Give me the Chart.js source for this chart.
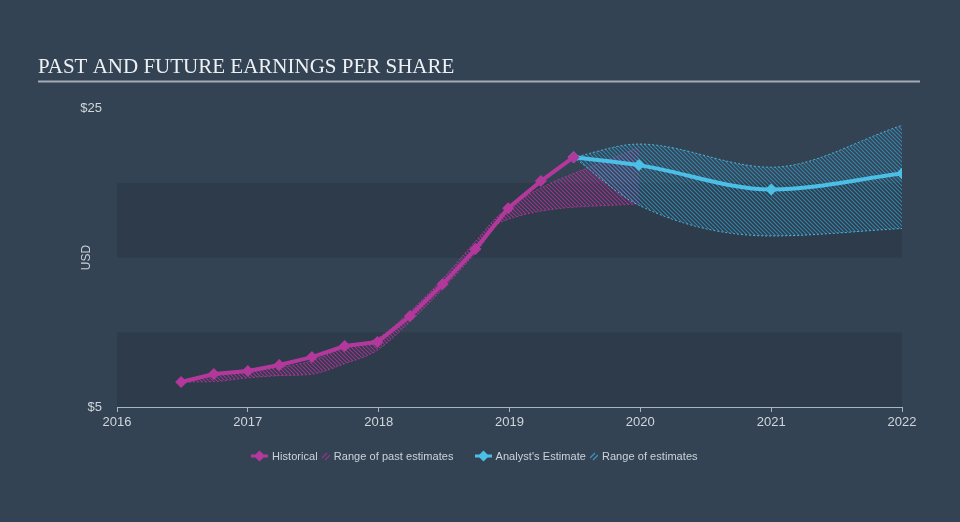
<!DOCTYPE html>
<html>
<head>
<meta charset="utf-8">
<title>Past and Future Earnings Per Share</title>
<script src="https://cdn.jsdelivr.net/npm/chart.js@4.4.1/dist/chart.umd.min.js"></script>
<style>
    html, body { margin: 0; padding: 0; background: #344353; }
    #wrap { position: relative; width: 960px; height: 522px; }
    #legend {
        position: absolute; left: 251px; top: 450px;
        display: flex; align-items: center;
        font: 11px "Liberation Sans", Arial, sans-serif; color: #ccd3da;
        letter-spacing: 0.05px;
        white-space: nowrap;
    }
    #legend svg { display: block; }
    #legend .txt { margin: 0 4px; }
    #legend .gap { width: 17px; }
</style>
</head>
<body>
<div id="wrap">
    <canvas id="chart" width="960" height="522"></canvas>
    <div id="legend">
        <svg width="17" height="12"><line x1="0" y1="6" x2="17" y2="6" stroke="#b2399b" stroke-width="3"/><polygon points="8.5,0.5 14,6 8.5,11.5 3,6" fill="#b2399b"/></svg>
        <span class="txt">Historical</span>
        <svg width="8" height="10"><path d="M0,7 L5,2 M3,9 L8,4" stroke="#8e3583" stroke-width="1.3"/></svg>
        <span class="txt">Range of past estimates</span>
        <span class="gap"></span>
        <svg width="17" height="12"><line x1="0" y1="6" x2="17" y2="6" stroke="#4bbfe6" stroke-width="3"/><polygon points="8.5,0.5 14,6 8.5,11.5 3,6" fill="#4bbfe6"/></svg>
        <span class="txt">Analyst's Estimate</span>
        <svg width="8" height="10"><path d="M0,7 L5,2 M3,9 L8,4" stroke="#3a94b8" stroke-width="1.3"/></svg>
        <span class="txt">Range of estimates</span>
    </div>
</div>
<script>
// EPS history (quarterly, trailing), in USD
const histDates = [2016.49, 2016.74, 2017.0, 2017.24, 2017.49, 2017.74, 2017.99, 2018.24, 2018.49, 2018.74, 2018.99, 2019.24, 2019.49];
const histEps = [6.67, 7.21, 7.41, 7.81, 8.34, 9.08, 9.35, 11.09, 13.23, 15.57, 18.31, 20.12, 21.72];

// range of past estimates
const pastRangeDates = [2016.49, 2016.74, 2017.0, 2017.24, 2017.49, 2017.74, 2017.99, 2018.24, 2018.49, 2018.74, 2018.94, 2019.99];
const pastLow = [6.67, 6.7, 6.95, 7.1, 7.2, 7.9, 8.8, 10.7, 12.9, 15.3, 17.4, 18.6];
const pastHigh = [6.67, 7.1, 7.35, 7.65, 8.1, 9.0, 9.6, 11.4, 13.6, 16.1, 18.0, 22.4];

// analyst estimates
const estDates = [2019.49, 2019.99, 2021.0, 2022.0];
const estEps = [21.72, 21.19, 19.56, 20.63];
const estLow = [21.72, 18.5, 16.45, 16.95];
const estHigh = [21.72, 22.6, 21.05, 23.85];

const yTicks = [5, 25];
const bands = [[5, 10], [15, 20]];

const pink = '#b2399b';
const blue = '#4bbfe6';

const canvas = document.getElementById('chart');
const ctx = canvas.getContext('2d');

function hatch(color) {
    const c = document.createElement('canvas');
    c.width = 4;
    c.height = 4;
    const g = c.getContext('2d');
    g.strokeStyle = color;
    g.lineWidth = 1.2;
    g.beginPath();
    g.moveTo(0, 0); g.lineTo(4, 4);
    g.moveTo(-1, 3); g.lineTo(1, 5);
    g.moveTo(3, -1); g.lineTo(5, 1);
    g.stroke();
    return ctx.createPattern(c, 'repeat');
}

function points(xs, ys) {
    return xs.map((x, i) => ({ x: x, y: ys[i] }));
}

// darker horizontal bands behind the data
const bandPlugin = {
    id: 'bands',
    beforeDatasetsDraw(chart) {
        const { ctx, chartArea, scales } = chart;
        ctx.save();
        ctx.fillStyle = '#2e3b4a';
        bands.forEach(([lo, hi]) => {
            const top = scales.y.getPixelForValue(hi);
            const bottom = scales.y.getPixelForValue(lo);
            ctx.fillRect(chartArea.left, top, chartArea.right - chartArea.left, bottom - top);
        });
        ctx.restore();
    }
};

// rule under the title
const titleRule = {
    id: 'titleRule',
    afterDraw(chart) {
        const tb = chart.titleBlock;
        const y = tb.top + 81.5;
        const ctx = chart.ctx;
        ctx.save();
        ctx.strokeStyle = '#a3abb4';
        ctx.lineWidth = 2;
        ctx.beginPath();
        ctx.moveTo(38, y);
        ctx.lineTo(chart.width - 40, y);
        ctx.stroke();
        ctx.restore();
    }
};

const rangeLine = {
    borderWidth: 1,
    borderDash: [2, 2],
    pointRadius: 0,
    cubicInterpolationMode: 'monotone'
};

new Chart(ctx, {
    type: 'line',
    data: {
        datasets: [
            {
                label: 'Historical',
                data: points(histDates, histEps),
                borderColor: pink,
                backgroundColor: pink,
                borderWidth: 4,
                pointStyle: 'rectRot',
                pointRadius: 6,
                pointBorderWidth: 0,
                order: 0
            },
            {
                label: "Analyst's Estimate",
                data: points(estDates, estEps),
                borderColor: blue,
                backgroundColor: blue,
                borderWidth: 4,
                pointStyle: 'rectRot',
                pointRadius: 6,
                pointBorderWidth: 0,
                cubicInterpolationMode: 'monotone',
                order: 0
            },
            Object.assign({
                label: 'Past low',
                data: points(pastRangeDates, pastLow),
                borderColor: 'rgba(178,57,155,0.85)',
                fill: false,
                order: 2
            }, rangeLine),
            Object.assign({
                label: 'Range of past estimates',
                data: points(pastRangeDates, pastHigh),
                borderColor: 'rgba(178,57,155,0.85)',
                backgroundColor: hatch('rgba(170,52,150,0.9)'),
                fill: '-1',
                order: 2
            }, rangeLine),
            Object.assign({
                label: 'Estimate low',
                data: points(estDates, estLow),
                borderColor: 'rgba(75,191,230,0.9)',
                fill: false,
                order: 1
            }, rangeLine),
            Object.assign({
                label: 'Range of estimates',
                data: points(estDates, estHigh),
                borderColor: 'rgba(75,191,230,0.9)',
                backgroundColor: hatch('rgba(55,150,192,0.8)'),
                fill: '-1',
                order: 1
            }, rangeLine)
        ]
    },
    options: {
        responsive: false,
        animation: false,
        layout: { padding: { left: 38, right: 58, top: 0, bottom: 85 } },
        plugins: {
            legend: { display: false },
            tooltip: { enabled: false },
            title: {
                display: true,
                text: 'PAST AND FUTURE EARNINGS PER SHARE',
                align: 'start',
                color: '#eef1f4',
                font: { family: '"Liberation Serif", "Times New Roman", serif', size: 21, weight: 'normal' },
                padding: { top: 55, bottom: 28 }
            }
        },
        scales: {
            x: {
                type: 'linear',
                min: 2016,
                max: 2022,
                afterFit: (scale) => { scale.height = 30; },
                ticks: {
                    stepSize: 1,
                    padding: 3,
                    color: '#d0d6dc',
                    font: { family: '"Liberation Sans", Arial, sans-serif', size: 13 },
                    callback: (v) => String(v)
                },
                grid: { drawOnChartArea: false, drawTicks: true, tickLength: 5, color: '#a9b5c2' },
                border: { display: true, color: '#a9b5c2', width: 1 }
            },
            y: {
                min: 5,
                max: 25,
                afterFit: (scale) => { scale.width = 79; },
                afterBuildTicks: (scale) => { scale.ticks = yTicks.map(v => ({ value: v })); },
                ticks: {
                    padding: 15,
                    color: '#d0d6dc',
                    font: { family: '"Liberation Sans", Arial, sans-serif', size: 13 },
                    callback: (v) => '$' + v
                },
                grid: { display: false, drawTicks: false },
                border: { display: false },
                title: {
                    display: true,
                    text: 'USD',
                    color: '#c9d0d8',
                    font: { family: '"Liberation Sans", Arial, sans-serif', size: 12 },
                    padding: { top: 41, bottom: 0 }
                }
            }
        }
    },
    plugins: [bandPlugin, titleRule]
});
</script>
</body>
</html>
